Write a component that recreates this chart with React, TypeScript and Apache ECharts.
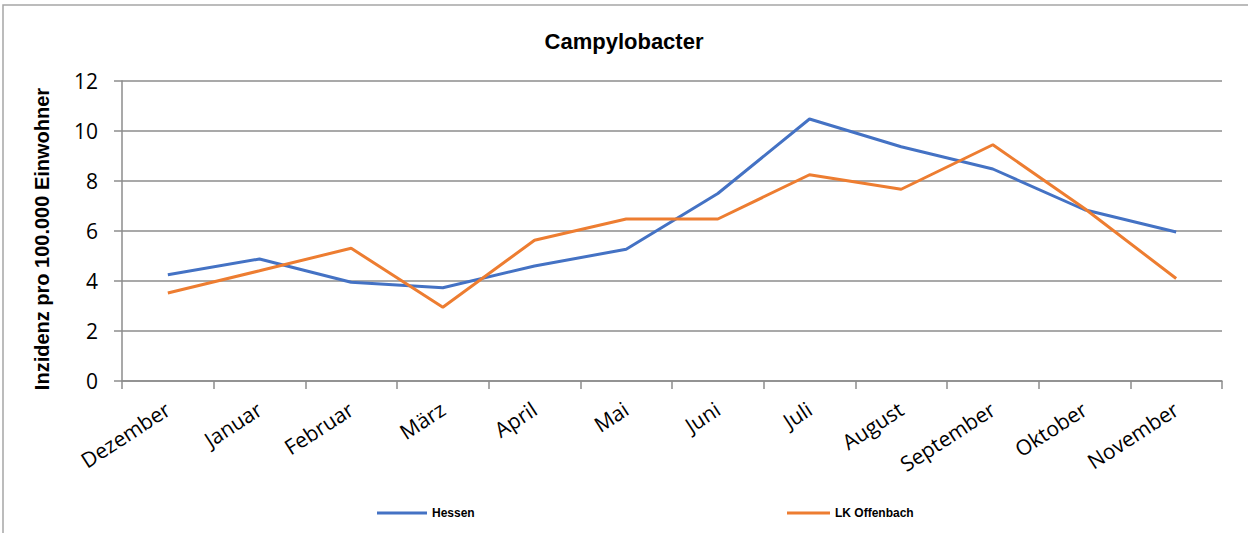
import React, { useEffect, useRef } from "react";
import * as echarts from "echarts";

const categories = ["Dezember", "Januar", "Februar", "März", "April", "Mai", "Juni", "Juli", "August", "September", "Oktober", "November"];
const hessen = [4.25, 4.88, 3.95, 3.73, 4.6, 5.27, 7.5, 10.48, 9.37, 8.48, 6.85, 5.96];
const offenbach = [3.52, 4.41, 5.31, 2.95, 5.63, 6.48, 6.48, 8.25, 7.67, 9.45, 6.9, 4.1];
const yTicks = { min: 0, max: 12, interval: 2 };
const yAxisTitle = "Inzidenz pro 100.000 Einwohner";

export default function App() {
  const ref = useRef<HTMLDivElement>(null);
  useEffect(() => {
    if (!ref.current) return;
    const chart = echarts.init(ref.current, null, { renderer: "svg" });
    const gray = "#8c8c8c";
    chart.setOption({
      animation: false,
      backgroundColor: "#ffffff",
      title: {
        text: "Campylobacter",
        left: "center",
        top: 25,
        textStyle: { fontFamily: "Liberation Sans", fontWeight: "bold", fontSize: 22, color: "#000" },
      },
      graphic: [
        {
          type: "rect",
          shape: { x: 3, y: 5, width: 1400, height: 700 },
          style: { fill: "none", stroke: "#a6a6a6", lineWidth: 1.5 },
          silent: true,
        },
        {
          type: "text",
          x: 42,
          y: 239,
          rotation: Math.PI / 2,
          style: {
            text: yAxisTitle,
            fontFamily: "Liberation Sans",
            fontWeight: "bold",
            fontSize: 20,
            fill: "#000",
            align: "center",
            verticalAlign: "middle",
          },
          silent: true,
        },
      ],
      legend: [
        {
          data: ["Hessen"],
          left: 372,
          top: 502,
          icon: "rect",
          itemWidth: 50,
          itemHeight: 3,
          textStyle: { fontFamily: "Liberation Sans", fontWeight: "bold", fontSize: 12, color: "#000" },
        },
        {
          data: ["LK Offenbach"],
          left: 782,
          top: 502,
          icon: "rect",
          itemWidth: 43,
          itemHeight: 3,
          textStyle: { fontFamily: "Liberation Sans", fontWeight: "bold", fontSize: 12, color: "#000" },
        },
      ],
      grid: { left: 122, right: 26, top: 81, bottom: 152 },
      xAxis: {
        type: "category",
        data: categories,
        boundaryGap: true,
        axisLine: { lineStyle: { color: gray, width: 1.5 } },
        axisTick: { show: true, length: 8, lineStyle: { color: gray, width: 1.5 } },
        axisLabel: {
          rotate: 33,
          margin: 26,
          fontFamily: "Open Sans",
          fontSize: 21,
          color: "#000",
        },
      },
      yAxis: {
        type: "value",
        min: yTicks.min,
        max: yTicks.max,
        interval: yTicks.interval,
        axisLine: { show: true, lineStyle: { color: gray, width: 1.5 } },
        axisTick: { show: true, length: 8, lineStyle: { color: gray, width: 1.5 } },
        axisLabel: { margin: 24, fontFamily: "Open Sans", fontSize: 21, color: "#000" },
        splitLine: { lineStyle: { color: gray, width: 1.5 } },
      },
      series: [
        {
          name: "Hessen",
          type: "line",
          data: hessen,
          showSymbol: false,
          symbol: "none",
          lineStyle: { color: "#4472C4", width: 3 },
          itemStyle: { color: "#4472C4" },
        },
        {
          name: "LK Offenbach",
          type: "line",
          data: offenbach,
          showSymbol: false,
          symbol: "none",
          lineStyle: { color: "#ED7D31", width: 3 },
          itemStyle: { color: "#ED7D31" },
        },
      ],
    });
    return () => chart.dispose();
  }, []);
  return (
    <div
      ref={ref}
      style={{ position: "fixed", left: 0, top: 0, width: 1248, height: 533 }}
    />
  );
}
